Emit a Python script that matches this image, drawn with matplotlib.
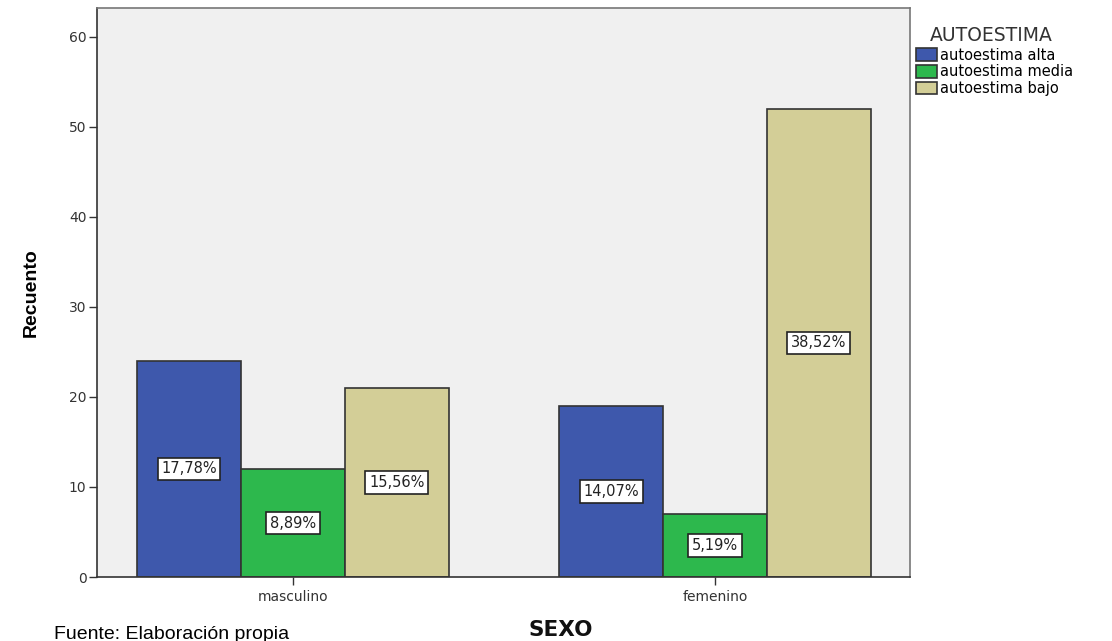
import matplotlib.pyplot as plt
import numpy as np

categories = ['masculino', 'femenino']
series = ['autoestima alta', 'autoestima media', 'autoestima bajo']
counts = {
    'autoestima alta': [24, 19],
    'autoestima media': [12, 7],
    'autoestima bajo': [21, 52],
}
pct_labels = {
    'autoestima alta': ['17,78%', '14,07%'],
    'autoestima media': ['8,89%', '5,19%'],
    'autoestima bajo': ['15,56%', '38,52%'],
}
colors = ['#3e58ac', '#2db84d', '#d3ce97']

plt.rcParams['font.family'] = ['DejaVu Sans']


def main():
    fig = plt.figure(figsize=(11.12, 6.41), dpi=100)
    ax = fig.add_axes([0.0872, 0.0998, 0.7311, 0.8877])
    ax.set_facecolor('#f0f0f0')

    x = np.arange(len(categories))
    width = 0.246
    for i, name in enumerate(series):
        pos = x + (i - 1) * width
        bars = ax.bar(pos, counts[name], width, color=colors[i],
                      edgecolor='#333333', linewidth=1.2, label=name)
        for b, txt in zip(bars, pct_labels[name]):
            ax.text(b.get_x() + b.get_width() / 2, b.get_height() / 2, txt,
                    ha='center', va='center', fontsize=10.5, color='#222222',
                    bbox=dict(boxstyle='square,pad=0.25', fc='white',
                              ec='#222222', lw=1.2))

    ax.set_xlim(-0.464, 1.462)
    ax.set_ylim(0, 63.2)
    ax.set_yticks(range(0, 61, 10))
    ax.set_xticks(x)
    ax.set_xticklabels(categories)
    ax.tick_params(axis='both', direction='out', length=6, width=1,
                   color='#333333', labelsize=10, labelcolor='#333333',
                   pad=1.5)
    ax.tick_params(axis='x', pad=3)

    for side in ['left', 'bottom']:
        ax.spines[side].set_color('#333333')
        ax.spines[side].set_linewidth(1.2)
    for side in ['top', 'right']:
        ax.spines[side].set_color('#777777')
        ax.spines[side].set_linewidth(1.2)

    fig.text(0.028, 0.543, 'Recuento', rotation=90, ha='center', va='center',
             fontsize=14, fontweight='bold', family='Liberation Sans')
    fig.text(0.504, 0.017, 'SEXO', ha='center', va='center',
             fontsize=15.5, fontweight='bold', color='#111111')
    fig.text(0.049, 0.010, 'Fuente: Elaboración propia', ha='left',
             va='center', fontsize=14, family='Liberation Sans')

    leg = ax.legend(loc='upper left', bbox_to_anchor=(1.0, 0.979),
                    title='AUTOESTIMA', frameon=False, fontsize=10.5,
                    title_fontsize=13.5, handlelength=1.45, handleheight=0.95,
                    handletextpad=0.2, labelspacing=0.12, borderpad=0.3,
                    borderaxespad=0.1)
    leg._legend_box.align = 'left'
    leg._legend_box.sep = 2
    leg.get_title().set_color('#333333')
    leg.get_title().set_position((14, 0))

    plt.savefig('out.png', dpi=100)


if __name__ == '__main__':
    main()
